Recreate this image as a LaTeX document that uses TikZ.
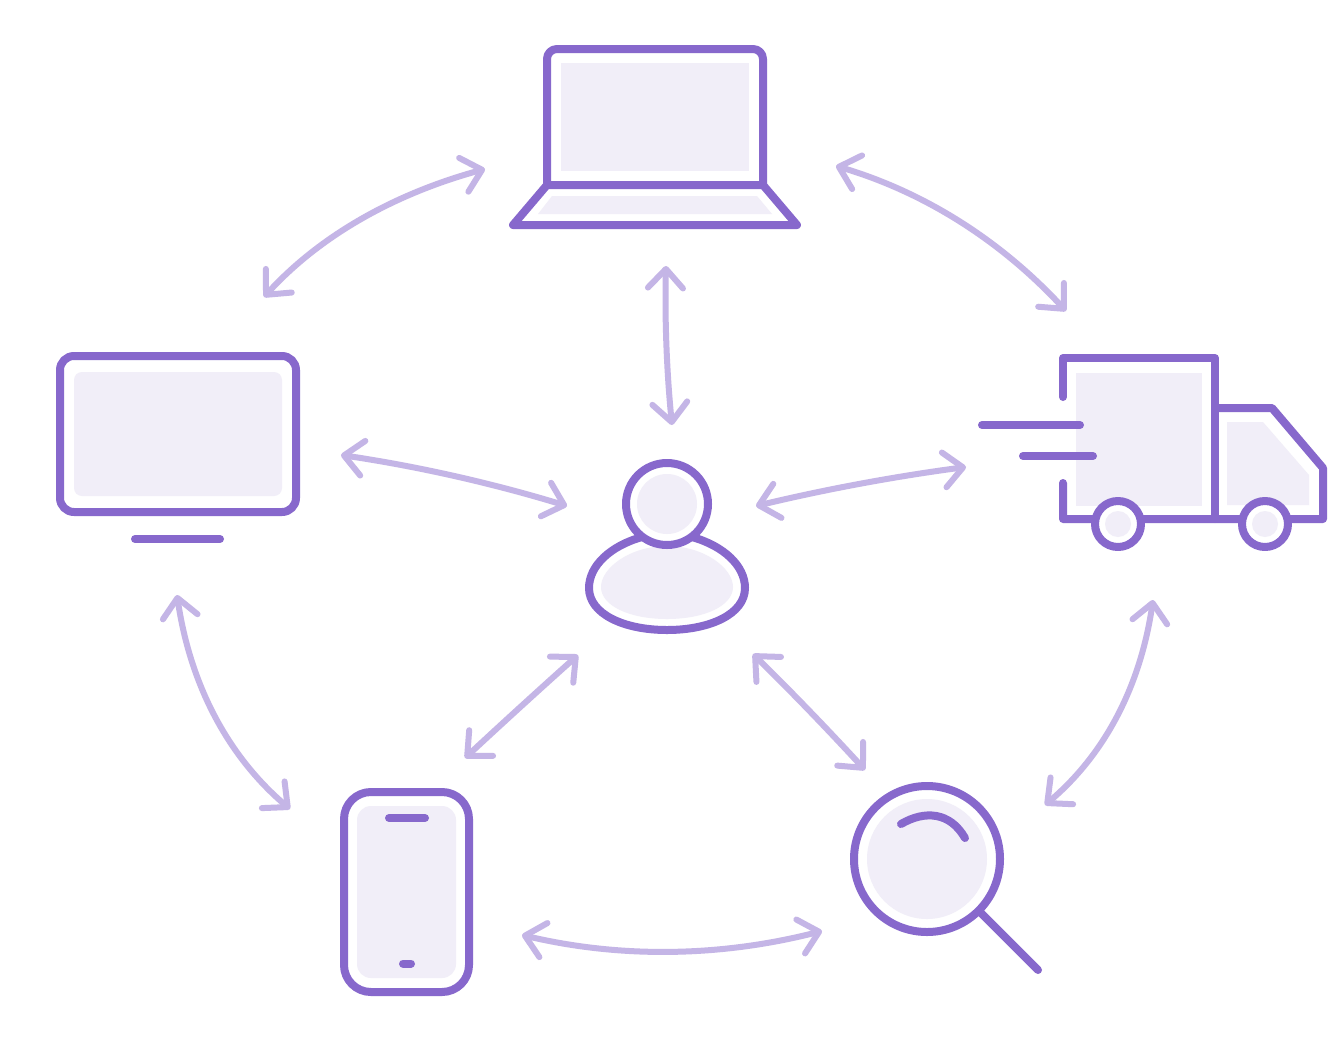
\documentclass[tikz,border=0pt]{standalone}
\usetikzlibrary{arrows.meta,calc}
\definecolor{main}{RGB}{135,104,204}
\definecolor{soft}{RGB}{241,238,248}
\definecolor{link}{RGB}{196,181,230}
\tikzset{
  ink/.style={draw=main,line width=4pt,line cap=round,line join=round},
  inkfill/.style={ink,fill=white},
  pale/.style={fill=soft,draw=none},
  linkarrow/.style={draw=link,line width=3pt,line cap=round,
    {Straight Barb[round,length=9.5pt,width=17.5pt]}-{Straight Barb[round,length=9.5pt,width=17.5pt]}},
}
\newcommand\linkcurve[3]{\draw[linkarrow] (#1) .. controls ($(#1)!0.667!(#2)$) and ($(#3)!0.667!(#2)$) .. (#3);}
\begin{document}
\begin{tikzpicture}[x=0.5pt,y=-0.5pt]
\useasboundingbox[fill=white] (0,0) rectangle (1344,1040);
% laptop
\fill[pale] (561,63) rectangle (749,171);
\fill[pale] (552,196) -- (757,196) -- (772,214) -- (538,214) -- cycle;
\path[ink] (547,185) [rounded corners=5pt] -- (547,49) -- (763,49) [sharp corners] -- (763,185) -- cycle;
\path[ink] (547,185) -- (513,225) -- (797,225) -- (763,185);
% monitor
\fill[pale,rounded corners=4pt] (74,372) rectangle (282,496);
\path[ink,rounded corners=7pt] (60,356) rectangle (296,512);
\path[ink] (135,539) -- (220,539);
% truck
\fill[pale] (1076,373) rectangle (1202,506);
\fill[pale] (1227,422) -- (1263,422) -- (1309,475) -- (1309,505) -- (1227,505) -- cycle;
\path[ink] (1063,397) -- (1063,358) -- (1215,358) -- (1215,519);
\path[ink] (1063,483) -- (1063,519) -- (1323,519) -- (1323,468) -- (1272,408) -- (1215,408);
\path[ink] (982,425) -- (1080,425);
\path[ink] (1023,456) -- (1093,456);
\path[inkfill] (1118,524) circle[radius=23];
\fill[pale] (1118,524) circle[radius=13];
\path[inkfill] (1265,524) circle[radius=23];
\fill[pale] (1265,524) circle[radius=13];
% person
\path[inkfill] (642,537) .. controls (610,546) and (589,566) .. (589,588)
  .. controls (589,614) and (624,630) .. (667,630)
  .. controls (710,630) and (745,614) .. (745,588)
  .. controls (745,566) and (724,546) .. (692,537);
\fill[pale] (601,587) .. controls (601,568) and (630,546) .. (667,546)
  .. controls (704,546) and (733,568) .. (733,587)
  .. controls (733,606) and (704,619) .. (667,619)
  .. controls (630,619) and (601,606) .. (601,587) -- cycle;
\path[inkfill] (667,504) circle[radius=41];
\fill[pale] (667,504) circle[radius=30];
% phone
\path[ink,rounded corners=13.5pt] (344,792) rectangle (469,992);
\fill[pale,rounded corners=7pt] (357,806) rectangle (456,978);
\path[ink] (389,818) -- (425,818);
\path[ink] (403,963.5) -- (411,963.5);
% magnifier
\fill[pale] (927,859) circle[radius=60];
\path[ink] (927,859) circle[radius=73];
\path[ink] (980,912) -- (1038,970);
\path[ink] (901,824) .. controls (925,810) and (950,812) .. (965,838);
% connector ends
\coordinate (lapL) at (485,169);
\coordinate (monT) at (264,297);
\coordinate (lapR) at (836,166);
\coordinate (truT) at (1066,311);
\coordinate (lapB) at (666,266);
\coordinate (perT) at (672,425);
\coordinate (monR) at (341,455);
\coordinate (perL) at (567,506);
\coordinate (perR) at (756,506);
\coordinate (truL) at (966,467);
\coordinate (monB) at (177,595);
\coordinate (phoT) at (290,809);
\coordinate (truB) at (1153,600);
\coordinate (magR) at (1045,805);
\coordinate (perBL) at (578,655);
\coordinate (phoR) at (465,758);
\coordinate (perBR) at (753,654);
\coordinate (magT) at (865,770);
\coordinate (phoB) at (522,935);
\coordinate (magL) at (822,931);
% connectors
\linkcurve{lapL}{346,207}{monT}
\linkcurve{lapR}{968,205}{truT}
\linkcurve{lapB}{664,345}{perT}
\linkcurve{monR}{456,472}{perL}
\linkcurve{perR}{860,481}{truL}
\linkcurve{monB}{197,730}{phoT}
\linkcurve{truB}{1134,730}{magR}
\linkcurve{perBL}{522,705}{phoR}
\linkcurve{perBR}{810,710}{magT}
\linkcurve{phoB}{670,970}{magL}
\end{tikzpicture}
\end{document}
